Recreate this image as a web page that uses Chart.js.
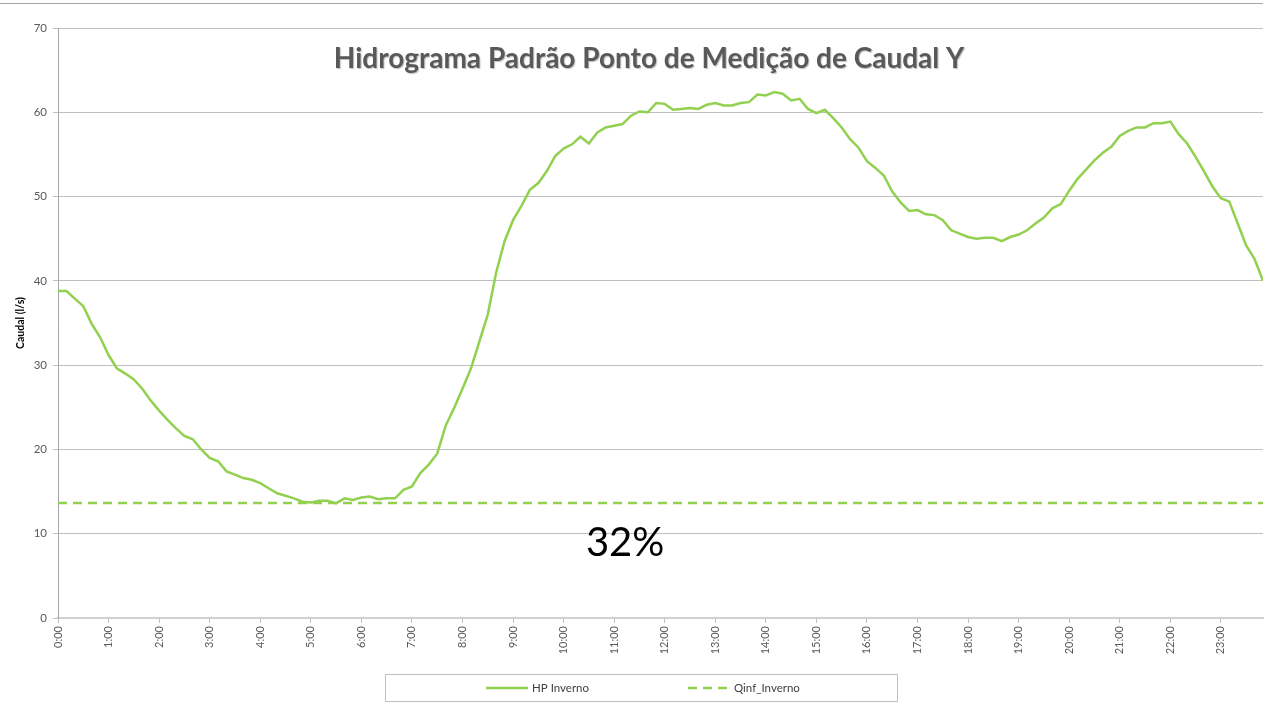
<!DOCTYPE html>
<html>
<head>
<meta charset="utf-8">
<title>Hidrograma Padrão</title>
<script src="https://cdn.jsdelivr.net/npm/chart.js@4.4.1/dist/chart.umd.min.js"></script>
<style>
  html, body { margin: 0; padding: 0; background: #fff; }
  #wrap { position: relative; width: 1265px; height: 721px; }
  #topLine { position: absolute; left: 0; top: 3px; width: 1263px; border-top: 1px solid #a6a6a6; }
</style>
</head>
<body>
<div id="wrap">
  <canvas id="myChart" width="1265" height="721"></canvas>
  <div id="topLine"></div>
</div>
<script>
// one value every 10 minutes, 0:00 .. 23:50
const stepMinutes = 10;
const hpInverno = [
  38.8, 38.8, 37.9, 37.0, 34.9, 33.3, 31.2, 29.6, 29.0, 28.3, 27.2, 25.8,
  24.6, 23.5, 22.5, 21.6, 21.2, 20.0, 19.0, 18.6, 17.4, 17.0, 16.6, 16.4,
  16.0, 15.4, 14.8, 14.5, 14.2, 13.8, 13.7, 13.9, 13.9, 13.6, 14.2, 14.0,
  14.3, 14.4, 14.1, 14.2, 14.2, 15.2, 15.6, 17.2, 18.2, 19.5, 22.8, 24.9,
  27.2, 29.6, 32.8, 36.0, 41.0, 44.7, 47.2, 48.9, 50.8, 51.6, 53.0, 54.8,
  55.7, 56.2, 57.1, 56.3, 57.6, 58.2, 58.4, 58.6, 59.6, 60.1, 60.0, 61.1,
  61.0, 60.3, 60.4, 60.5, 60.4, 60.9, 61.1, 60.8, 60.8, 61.1, 61.2, 62.1,
  62.0, 62.4, 62.2, 61.4, 61.6, 60.4, 59.9, 60.3, 59.3, 58.2, 56.8, 55.8,
  54.2, 53.4, 52.5, 50.6, 49.3, 48.3, 48.4, 47.9, 47.8, 47.2, 46.0, 45.6,
  45.2, 45.0, 45.1, 45.1, 44.7, 45.2, 45.5, 46.0, 46.8, 47.5, 48.6, 49.1,
  50.7, 52.1, 53.2, 54.3, 55.2, 55.9, 57.2, 57.8, 58.2, 58.2, 58.7, 58.7,
  58.9, 57.4, 56.3, 54.7, 53.0, 51.2, 49.8, 49.4, 46.8, 44.2, 42.6, 40.0
];
const qinfInverno = 13.65;
const hourLabels = [
  "0:00", "1:00", "2:00", "3:00", "4:00", "5:00", "6:00", "7:00",
  "8:00", "9:00", "10:00", "11:00", "12:00", "13:00", "14:00", "15:00",
  "16:00", "17:00", "18:00", "19:00", "20:00", "21:00", "22:00", "23:00"
];
const yTicks = [0, 10, 20, 30, 40, 50, 60, 70];
const seriesNames = ["HP Inverno", "Qinf_Inverno"];
const chartTitle = "Hidrograma Padrão Ponto de Medição de Caudal Y";
const noteText = "32%";

const green = "#92D050";
const lastMinute = (hpInverno.length - 1) * stepMinutes;

const hpPoints = hpInverno.map((v, i) => ({ x: i * stepMinutes, y: v }));
const qinfPoints = [
  { x: 0, y: qinfInverno },
  { x: lastMinute, y: qinfInverno },
];

// title, the 32% note and the boxed legend are drawn on top of the plot
const overlay = {
  id: "overlay",
  afterDraw(chart) {
    const ctx = chart.ctx;
    const xs = chart.scales.x;
    const ys = chart.scales.y;
    ctx.save();

    // title inside the plot area
    ctx.font = "bold 28px Lato";
    ctx.fillStyle = "#595959";
    ctx.textAlign = "center";
    ctx.textBaseline = "middle";
    ctx.shadowColor = "rgba(0,0,0,0.25)";
    ctx.shadowOffsetX = 1;
    ctx.shadowOffsetY = 1;
    ctx.shadowBlur = 1;
    ctx.fillText(chartTitle, 649, 59);
    ctx.shadowColor = "transparent";

    // 32% note
    ctx.font = "40px Lato";
    ctx.fillStyle = "#000";
    ctx.fillText(noteText, xs.getPixelForValue(673), ys.getPixelForValue(8.9));

    // legend box
    ctx.strokeStyle = "#BFBFBF";
    ctx.lineWidth = 1;
    ctx.strokeRect(385.5, 674.5, 512, 27);
    ctx.font = "11.5px Lato";
    ctx.fillStyle = "#404040";
    ctx.textAlign = "left";
    const items = [
      { x: 486, ds: chart.data.datasets[0] },
      { x: 688, ds: chart.data.datasets[1] },
    ];
    items.forEach((it) => {
      ctx.beginPath();
      ctx.strokeStyle = it.ds.borderColor;
      ctx.lineWidth = it.ds.borderWidth;
      ctx.setLineDash(it.ds.borderDash || []);
      ctx.moveTo(it.x, 688);
      ctx.lineTo(it.x + 42, 688);
      ctx.stroke();
      ctx.setLineDash([]);
      ctx.fillText(it.ds.label, it.x + 46, 688);
    });
    ctx.restore();
  },
};

const ctx = document.querySelector("#myChart");

new Chart(ctx, {
  type: "line",
  data: {
    datasets: [
      {
        label: seriesNames[0],
        data: hpPoints,
        borderColor: green,
        borderWidth: 2.5,
        pointRadius: 0,
        tension: 0,
      },
      {
        label: seriesNames[1],
        data: qinfPoints,
        borderColor: green,
        borderWidth: 2.5,
        borderDash: [9, 6],
        pointRadius: 0,
      },
    ],
  },
  options: {
    responsive: false,
    animation: false,
    layout: { padding: { top: 28, right: 2, bottom: 53, left: 0 } },
    plugins: {
      legend: { display: false },
      tooltip: { enabled: false },
    },
    scales: {
      x: {
        type: "linear",
        min: 0,
        max: lastMinute,
        afterBuildTicks(scale) {
          scale.ticks = hourLabels.map((l, i) => ({ value: i * 60 }));
        },
        afterFit(scale) {
          scale.height = 50;
        },
        ticks: {
          autoSkip: false,
          minRotation: 90,
          maxRotation: 90,
          padding: 3,
          color: "#595959",
          font: { family: "Lato", size: 11 },
          callback: (v) => hourLabels[Math.round(v / 60)],
        },
        grid: {
          drawOnChartArea: false,
          drawTicks: true,
          tickLength: 5,
          color: "#BFBFBF",
        },
        border: { color: "#D0D0D0", width: 2 },
      },
      y: {
        min: 0,
        max: 70,
        afterBuildTicks(scale) {
          scale.ticks = yTicks.map((v) => ({ value: v }));
        },
        afterFit(scale) {
          scale.width = 58;
        },
        ticks: {
          padding: 6,
          color: "#595959",
          font: { family: "Lato", size: 11.5 },
        },
        grid: { color: "#BFBFBF", tickLength: 5 },
        border: { color: "#A6A6A6", width: 1 },
        title: {
          display: true,
          text: "Caudal (l/s)",
          color: "#000",
          font: { family: "Lato", size: 10.5, weight: "bold" },
          padding: { top: 14 },
        },
      },
    },
  },
  plugins: [overlay],
});
</script>
</body>
</html>
